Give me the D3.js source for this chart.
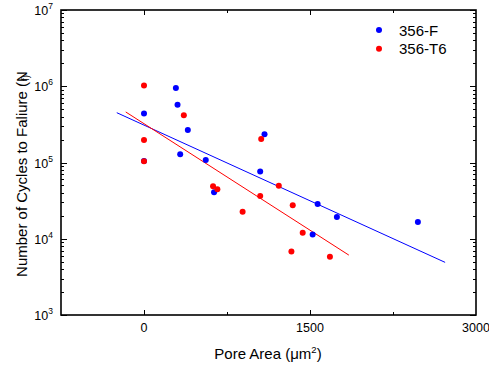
<!DOCTYPE html>
<html>
<head>
<meta charset="utf-8">
<script src="https://cdn.jsdelivr.net/npm/d3@7"></script>
<style>
  body { margin: 0; background: #fff; }
  text { font-family: "Liberation Sans", Arial, sans-serif; }
</style>
</head>
<body>
<div id="chart"></div>
<script>
    // pore area (um^2) and cycles to failure
    var fArea = [0, 288, 303, 396, 327, 0, 558, 1089, 1050, 633, 1569, 1743, 2475, 1524];
    var fCycles = [4.4e5, 9.5e5, 5.7e5, 2.67e5, 1.28e5, 1.05e5, 1.08e5, 2.34e5, 7.6e4, 4.06e4, 2.86e4, 1.93e4, 1.66e4, 1.14e4];
    var t6Area = [0, 360, 0, 0, 1059, 624, 663, 1218, 1050, 1344, 891, 1434, 1332, 1680];
    var t6Cycles = [1.02e6, 4.16e5, 1.97e5, 1.04e5, 2.03e5, 4.87e4, 4.45e4, 4.97e4, 3.64e4, 2.75e4, 2.26e4, 1.2e4, 6.8e3, 5.8e3];

    // fitted trend line end points
    var fFitArea = [-246, 2721];
    var fFitCycles = [4.5e5, 4.9e3];
    var t6FitArea = [-165, 1851];
    var t6FitCycles = [4.6e5, 6.1e3];

    var xTicks = [0, 1500, 3000];
    var xMinor = [750, 2250];
    var yTicks = [1e3, 1e4, 1e5, 1e6, 1e7];
    var seriesNames = ["356-F", "356-T6"];
    var seriesColors = ["#0000ff", "#ff0000"];

    var width = 489, height = 367;
    var pLeft = 61, pRight = 476, pTop = 10, pBottom = 315;

    var svg = d3.select("#chart").append("svg")
        .attr("width", width)
        .attr("height", height);

    var x = d3.scaleLinear().domain([-750, 3000]).range([pLeft, pRight]);
    var y = d3.scaleLog().domain([1e3, 1e7]).range([pBottom, pTop]);

    // minor log ticks
    var yMinor = [];
    yTicks.slice(0, -1).forEach(function (d) {
        for (var k = 2; k < 10; k++) yMinor.push(d * k);
    });

    function tickLines(g, vals, len, horizontal) {
        g.selectAll("line").data(vals).enter().append("line")
            .attr("stroke", "#000").attr("stroke-width", 1)
            .each(function (d) {
                var s = d3.select(this);
                if (horizontal) {
                    s.attr("x1", Math.round(x(d)) + 0.5).attr("x2", Math.round(x(d)) + 0.5).attr("y1", 0).attr("y2", len);
                } else {
                    s.attr("y1", Math.round(y(d)) + 0.5).attr("y2", Math.round(y(d)) + 0.5).attr("x1", 0).attr("x2", len);
                }
            });
    }

    // ticks, all pointing inward
    tickLines(svg.append("g").attr("transform", "translate(0," + pBottom + ")"), xTicks.slice(0, 2), -5, true);
    tickLines(svg.append("g").attr("transform", "translate(0," + pBottom + ")"), xMinor, -3, true);
    tickLines(svg.append("g").attr("transform", "translate(0," + pTop + ")"), xTicks.slice(0, 2), 5, true);
    tickLines(svg.append("g").attr("transform", "translate(0," + pTop + ")"), xMinor, 3, true);
    tickLines(svg.append("g").attr("transform", "translate(" + pLeft + ",0)"), yTicks, 6, false);
    tickLines(svg.append("g").attr("transform", "translate(" + pLeft + ",0)"), yMinor, 3, false);
    tickLines(svg.append("g").attr("transform", "translate(" + pRight + ",0)"), yTicks, -6, false);
    tickLines(svg.append("g").attr("transform", "translate(" + pRight + ",0)"), yMinor, -3, false);

    // frame
    svg.append("rect")
        .attr("x", pLeft).attr("y", pTop)
        .attr("width", pRight - pLeft).attr("height", pBottom - pTop)
        .attr("fill", "none").attr("stroke", "#000").attr("stroke-width", 1.6);

    // x tick labels
    svg.append("g").selectAll("text").data(xTicks).enter().append("text")
        .attr("x", function (d) { return x(d); })
        .attr("y", 332)
        .attr("text-anchor", "middle")
        .attr("font-size", 12.5)
        .text(function (d) { return d; });

    // y tick labels as 10^n
    var yl = svg.append("g").selectAll("text").data(yTicks).enter().append("text")
        .attr("x", 53)
        .attr("y", function (d) { return y(d) + 5; })
        .attr("text-anchor", "end")
        .attr("font-size", 12.5);
    yl.append("tspan").text("10");
    yl.append("tspan").attr("dy", -6).attr("font-size", 8.5)
        .text(function (d) { return Math.round(Math.log10(d)); });

    // fit lines
    var fits = [[fFitArea, fFitCycles], [t6FitArea, t6FitCycles]];
    var line = d3.line()
        .x(function (d) { return x(d[0]); })
        .y(function (d) { return y(d[1]); });
    fits.forEach(function (f, i) {
        svg.append("path")
            .datum(d3.zip(f[0], f[1]))
            .attr("d", line)
            .attr("fill", "none")
            .attr("stroke", seriesColors[i])
            .attr("stroke-width", 1);
    });

    // points
    var series = [d3.zip(fArea, fCycles), d3.zip(t6Area, t6Cycles)];
    series.forEach(function (pts, i) {
        svg.append("g").selectAll("circle").data(pts).enter().append("circle")
            .attr("cx", function (d) { return x(d[0]); })
            .attr("cy", function (d) { return y(d[1]); })
            .attr("r", 3)
            .attr("fill", seriesColors[i]);
    });

    // legend
    var legend = svg.append("g");
    seriesNames.forEach(function (name, i) {
        legend.append("circle")
            .attr("cx", 379).attr("cy", 30 + i * 18.7)
            .attr("r", 3).attr("fill", seriesColors[i]);
        legend.append("text")
            .attr("x", 399).attr("y", 35.5 + i * 18.7)
            .attr("font-size", 15)
            .text(name);
    });

    // axis titles
    var xt = svg.append("text")
        .attr("x", 268).attr("y", 359)
        .attr("text-anchor", "middle")
        .attr("font-size", 15);
    xt.append("tspan").text("Pore Area (\u03bcm");
    xt.append("tspan").attr("dy", -6).attr("font-size", 9.5).text("2");
    xt.append("tspan").attr("dy", 6).text(")");

    var yt = svg.append("text")
        .attr("transform", "translate(27,174) rotate(-90)")
        .attr("text-anchor", "middle")
        .attr("font-size", 15);
    yt.append("tspan").text("Number of Cycles to Faliure (N");
    yt.append("tspan").attr("dx", -10).attr("dy", 2).attr("font-size", 10).text("f)");
</script>
</body>
</html>
